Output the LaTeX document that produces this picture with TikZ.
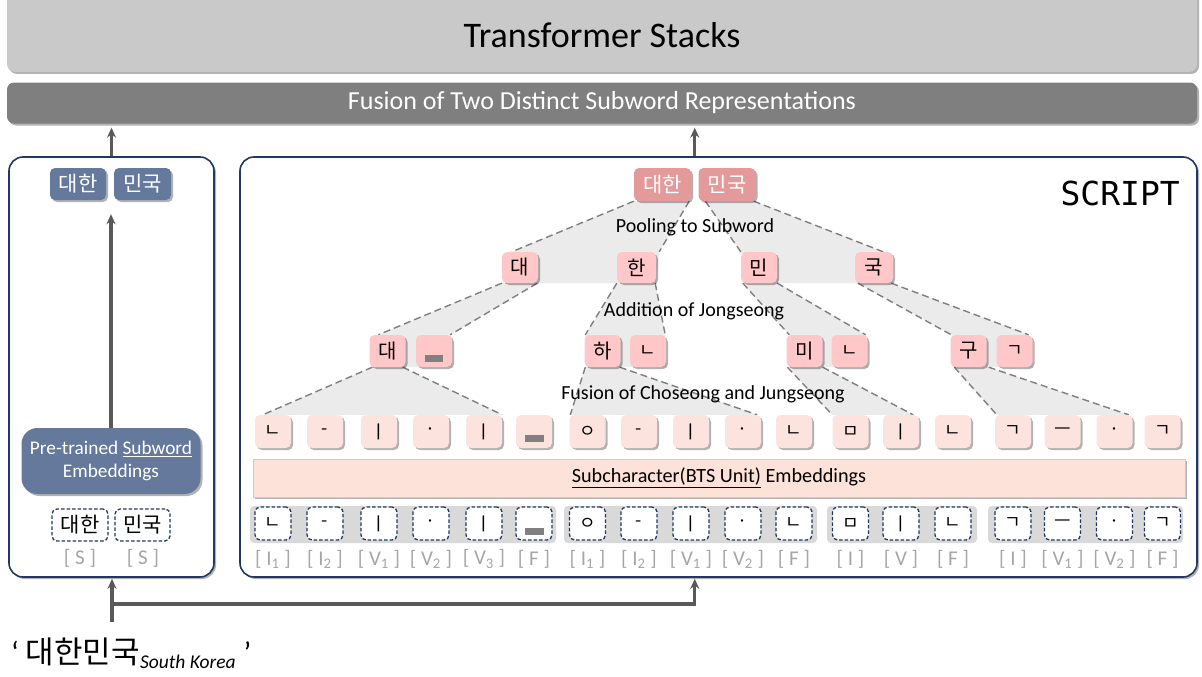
\documentclass[tikz,border=0pt]{standalone}
\usepackage{fontspec}
\setmainfont{Carlito}
\newfontfamily\kr{Noto Sans CJK KR}
\newfontfamily\monofnt{DejaVu Sans Mono}
\usetikzlibrary{shadows,calc,arrows.meta}
\pgfdeclarelayer{back}
\pgfdeclarelayer{tree}
\pgfsetlayers{back,tree,main}
\definecolor{navy}{HTML}{203864}
\definecolor{tsgray}{HTML}{C9C9C9}
\definecolor{fusgray}{HTML}{7F7F7F}
\definecolor{bluebox}{HTML}{64799B}
\definecolor{toppink}{HTML}{E49A9A}
\definecolor{lvlpink}{HTML}{FFC7C7}
\definecolor{rowpink}{HTML}{FCE3DD}
\definecolor{barpink}{HTML}{FDE2DA}
\definecolor{grpgray}{HTML}{D9D9D9}
\definecolor{treegray}{HTML}{EBEBEB}
\definecolor{dashgray}{HTML}{7F7F7F}
\definecolor{arrgray}{HTML}{595959}
\definecolor{labgray}{HTML}{A6A6A6}
\definecolor{barc}{HTML}{808080}
\begin{document}
\begin{tikzpicture}[x=1pt,y=-1pt,
  shad/.style={drop shadow={shadow xshift=2pt,shadow yshift=-2pt,opacity=.3,fill=black}},
  panel/.style={draw=navy,line width=1.6pt,fill=white,rounded corners=14pt,shad},
  kbox/.style={rounded corners=5pt,inner sep=0pt,shad,font=\kr\fontsize{20}{20}\selectfont},
  bluek/.style={kbox,fill=bluebox,text=white,minimum height=32pt,font=\kr\fontsize{21}{21}\selectfont},
  topk/.style={kbox,fill=toppink,text=white,minimum height=33pt,font=\kr\fontsize{21}{21}\selectfont},
  lvlk/.style={kbox,fill=lvlpink,minimum width=36pt,minimum height=31pt},
  rowk/.style={kbox,fill=rowpink,minimum width=36pt,minimum height=33pt,font=\kr\fontsize{18}{18}\selectfont},
  dashk/.style={rounded corners=5pt,inner sep=0pt,fill=white,draw=navy,line width=1.3pt,dash pattern=on 3.5pt off 2pt,minimum width=36pt,minimum height=33pt,font=\kr\fontsize{18}{18}\selectfont},
  dashk2/.style={dashk,font=\kr\fontsize{21}{21}\selectfont,minimum height=32pt},
  grp/.style={fill=grpgray,rounded corners=4pt},
  labt/.style={text=labgray,font=\fontsize{21}{21}\selectfont,inner sep=0pt},
  treel/.style={draw=dashgray,line width=1.4pt,dash pattern=on 7pt off 4pt},
  treef/.style={fill=treegray},
  arr/.style={draw=arrgray,line width=3.2pt,-{Stealth[length=10pt,width=9pt]}},
  steplab/.style={font=\fontsize{20}{20}\selectfont,inner sep=1pt}
]
\useasboundingbox (0,0) rectangle (1202,677);

% top bars
\node[fill=tsgray,rounded corners=8pt,minimum width=1190pt,minimum height=84pt,shad] (ts) at (602,30) {};
\node[font=\fontsize{36}{36}\selectfont] (tstext) at (602,35) {Transformer Stacks};
\node[fill=fusgray,rounded corners=7pt,minimum width=1190pt,minimum height=41pt,shad,text=white,font=\fontsize{26}{26}\selectfont] (fus) at (602,103) {Fusion of Two Distinct Subword Representations};

% panels
\begin{pgfonlayer}{back}
\node[panel,minimum width=205pt,minimum height=420pt] (lp) at (111.5,367) {};
\node[panel,minimum width=957pt,minimum height=420pt] (rp) at (718.5,367) {};
\end{pgfonlayer}

% left panel content
\node[bluek,minimum width=56pt] (lb1) at (78,184) {대한};
\node[bluek,minimum width=57pt] (lb2) at (142.5,184) {민국};
\node[fill=bluebox,rounded corners=16pt,minimum width=179pt,minimum height=66pt,shad,text=white,align=center,font=\fontsize{19.3}{23}\selectfont] (pt) at (111,461) {Pre-trained \underline{Subword}\\Embeddings};
\node[dashk2,minimum width=56pt] (ld1) at (80,525) {대한};
\node[dashk2,minimum width=55pt] (ld2) at (142.5,525) {민국};
\node[labt] (ls1) at (80,558) {[ S ]};
\node[labt] (ls2) at (143,558) {[ S ]};
\draw[arr,shorten >=14pt] (pt.north) -- (pt.north |- lb1.south);

% right panel : SCRIPT
\node[anchor=east,font=\monofnt\fontsize{33}{33}\selectfont,inner sep=0pt] (scr) at (1180,193) {SCRIPT};

% level 1
\node[topk,minimum width=57pt] (t1) at (662.5,184.5) {대한};
\node[topk,minimum width=57pt] (t2) at (727,184.5) {민국};
\coordinate (tm) at ($(t1.east)!.5!(t2.west)$);

% level 2
\node[lvlk] (a2) at (520,267.5) {대};
\node[lvlk,minimum width=39pt] (b2) at (636.5,267.5) {한};
\node[lvlk] (c2) at (759,267.5) {민};
\node[lvlk,minimum width=38pt] (e2) at (874,267.5) {국};

% level 3
\node[lvlk,minimum height=32pt] (a3) at (387.5,351) {대};
\node[lvlk,minimum height=32pt] (a3b) at (434,351) {};
\node[lvlk,minimum height=32pt] (b3) at (602.5,351) {하};
\node[lvlk,minimum height=32pt,font=\kr\fontsize{18}{18}\selectfont] (b3b) at (648,351) {ㄴ};
\node[lvlk,minimum height=32pt] (c3) at (804.5,351) {미};
\node[lvlk,minimum height=32pt,font=\kr\fontsize{18}{18}\selectfont] (c3b) at (849.5,351) {ㄴ};
\node[lvlk,minimum height=32pt] (e3) at (968.5,351) {구};
\node[lvlk,minimum height=32pt,font=\kr\fontsize{18}{18}\selectfont] (e3b) at (1014.5,351) {ㄱ};
\fill[barc] ([xshift=-9pt,yshift=-3.5pt]a3b.center) rectangle ([xshift=9pt,yshift=-10.5pt]a3b.center);

% sub-character bar
\node[fill=barpink,draw=black!20,line width=.6pt,minimum width=932pt,minimum height=38pt,shad,font=\fontsize{20.2}{20}\selectfont,inner sep=0pt] (sc) at (719,478) {\underline{Subcharacter(BTS Unit)} Embeddings};

% group backgrounds
\begin{pgfonlayer}{tree}
\fill[grp] (250,506) rectangle (556,543);
\fill[grp] (564,506) rectangle (817,543);
\fill[grp] (827,506) rectangle (977,543);
\fill[grp] (988,506) rectangle (1183,543);
\end{pgfonlayer}

% rows
\foreach \x/\g/\l [count=\i] in {
 273/ㄴ/{[ I\textsubscript{1} ]},
 325/-/{[ I\textsubscript{2} ]},
 379/ㅣ/{[ V\textsubscript{1} ]},
 431/·/{[ V\textsubscript{2} ]},
 484/ㅣ/{[ V\textsubscript{3} ]},
 534/{}/{[ F ]},
 587.5/ㅇ/{[ I\textsubscript{1} ]},
 639/-/{[ I\textsubscript{2} ]},
 691/ㅣ/{[ V\textsubscript{1} ]},
 743/·/{[ V\textsubscript{2} ]},
 794/ㄴ/{[ F ]},
 850.5/ㅁ/{[ I ]},
 901/ㅣ/{[ V ]},
 953/ㄴ/{[ F ]},
 1013/ㄱ/{[ I ]},
 1062.5/ㅡ/{[ V\textsubscript{1} ]},
 1114.5/·/{[ V\textsubscript{2} ]},
 1162.5/ㄱ/{[ F ]}} {
  \node[rowk] (r\i) at (\x,431.5) {\g};
  \node[dashk] (q\i) at (\x,523.5) {\g};
  \node[labt] (l\i) at (\x,559) {\l};
}
\fill[barc] ([xshift=-9.5pt,yshift=-3.5pt]r6.center) rectangle ([xshift=9.5pt,yshift=-10.5pt]r6.center);
\fill[barc] ([xshift=-9.5pt,yshift=-4.5pt]q6.center) rectangle ([xshift=9.5pt,yshift=-11.5pt]q6.center);

% tree shading and dashed connectors
\begin{pgfonlayer}{tree}
% level1 -> level2
\fill[treef] (t1.south west) -- ([xshift=10pt]a2.north west) -- (a2.south) -- (b2.south east) -- ([xshift=3pt]b2.north east) -- ([xshift=-2pt]t1.south east) -- cycle;
\fill[treef] ([xshift=7pt]t2.south west) -- (c2.north west) -- (c2.south) -- (e2.south east) -- ([xshift=-10pt]e2.north east) -- ([xshift=-2pt]t2.south east) -- cycle;
\draw[treel] (t1.south west) -- ([xshift=10pt]a2.north west);
\draw[treel] ([xshift=-2pt]t1.south east) -- ([xshift=3pt]b2.north east);
\draw[treel] ([xshift=7pt]t2.south west) -- (c2.north west);
\draw[treel] ([xshift=-2pt]t2.south east) -- ([xshift=-10pt]e2.north east);
% level2 -> level3
\fill[treef] (a2.south west) -- ([xshift=9pt]a3.north west) -- (a3.south) -- (a3b.south east) -- ([xshift=-2pt]a3b.north east) -- ([xshift=-1pt]a2.south east) -- cycle;
\fill[treef] (b2.south west) -- ([xshift=1pt]b3.north west) -- (b3.south) -- (b3b.south east) -- ([xshift=-1pt]b3b.north east) -- ([xshift=-1pt]b2.south east) -- cycle;
\fill[treef] ([xshift=2pt]c2.south west) -- ([xshift=3pt]c3.north west) -- (c3.south) -- (c3b.south east) -- ([xshift=-2pt]c3b.north east) -- (c2.south east) -- cycle;
\fill[treef] ([xshift=3pt]e2.south west) -- ([xshift=1pt]e3.north west) -- (e3.south) -- (e3b.south east) -- ([xshift=-4pt]e3b.north east) -- ([xshift=-2pt]e2.south east) -- cycle;
\draw[treel] (a2.south west) -- ([xshift=9pt]a3.north west);
\draw[treel] ([xshift=-1pt]a2.south east) -- ([xshift=-2pt]a3b.north east);
\draw[treel] (b2.south west) -- ([xshift=1pt]b3.north west);
\draw[treel] ([xshift=-1pt]b2.south east) -- ([xshift=-1pt]b3b.north east);
\draw[treel] ([xshift=2pt]c2.south west) -- ([xshift=3pt]c3.north west);
\draw[treel] (c2.south east) -- ([xshift=-2pt]c3b.north east);
\draw[treel] ([xshift=3pt]e2.south west) -- ([xshift=1pt]e3.north west);
\draw[treel] ([xshift=-2pt]e2.south east) -- ([xshift=-4pt]e3b.north east);
% level3 -> row
\fill[treef] ([xshift=3pt]a3.south west) -- ([xshift=8pt]r1.north west) -- (r5.north east) -- ([xshift=-3pt]a3.south east) -- cycle;
\fill[treef] ([xshift=1pt]b3.south west) -- ([xshift=1pt]r7.north west) -- ([xshift=-4pt]r10.north east) -- ([xshift=-1pt]b3.south east) -- cycle;
\fill[treef] ([xshift=1pt]c3.south west) -- (r12.north west) -- ([xshift=-6pt]r13.north east) -- (c3.south east) -- cycle;
\fill[treef] ([xshift=4pt]e3.south west) -- ([xshift=2pt]r15.north west) -- ([xshift=-4pt]r17.north east) -- ([xshift=2pt]e3.south east) -- cycle;
\draw[treel] ([xshift=3pt]a3.south west) -- ([xshift=8pt]r1.north west);
\draw[treel] ([xshift=-3pt]a3.south east) -- (r5.north east);
\draw[treel] ([xshift=1pt]b3.south west) -- ([xshift=1pt]r7.north west);
\draw[treel] ([xshift=-1pt]b3.south east) -- ([xshift=-4pt]r10.north east);
\draw[treel] ([xshift=1pt]c3.south west) -- (r12.north west);
\draw[treel] (c3.south east) -- ([xshift=-6pt]r13.north east);
\draw[treel] ([xshift=4pt]e3.south west) -- ([xshift=2pt]r15.north west);
\draw[treel] ([xshift=2pt]e3.south east) -- ([xshift=-4pt]r17.north east);
\end{pgfonlayer}

% step labels
\node[steplab] (s1) at (695,227) {Pooling to Subword};
\node[steplab] (s2) at (694,311) {Addition of Jongseong};
\node[steplab] (s3) at (703,394) {Fusion of Choseong and Jungseong};

% arrows to fusion bar
\draw[arr,shorten >=4pt] (lp.north) -- (lp.north |- fus.south);
\draw[arr,shorten >=4pt] (tm |- rp.north) -- (tm |- fus.south);

% input
\node[anchor=base west,inner sep=0pt,font=\fontsize{31}{31}\selectfont] (inp) at (11,663) {‘ {\kr 대한민국}\raisebox{-5pt}{\fontsize{19.5}{19.5}\selectfont\itshape South Korea}\hspace{8pt}’};
\coordinate (src) at (112,622);
\coordinate (jn) at (112,604);
\draw[arr,shorten >=1pt] (src) -- (src |- lp.south);
\draw[arr,shorten >=1pt] (jn) -| (tm |- rp.south);
\end{tikzpicture}
\end{document}
